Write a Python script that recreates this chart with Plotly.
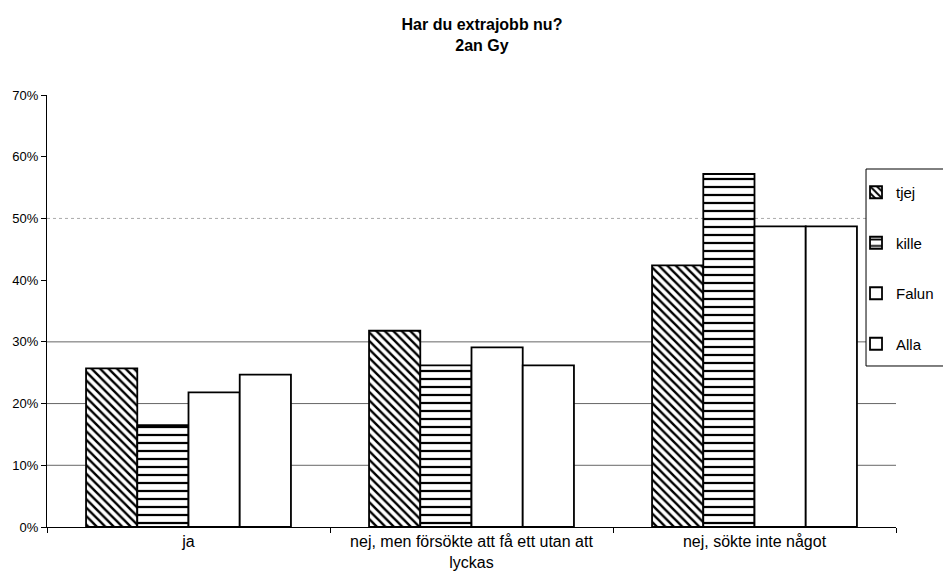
import plotly.graph_objects as go

categories = ["ja", "nej, men försökte att få ett utan att<br>lyckas", "nej, sökte inte något"]
tjej = [25.7, 31.8, 42.4]
kille = [16.5, 26.2, 57.2]
falun = [21.8, 29.1, 48.7]
alla = [24.7, 26.2, 48.7]
series_names = ["tjej", "kille", "Falun", "Alla"]
tick_vals = [0, 10, 20, 30, 40, 50, 60, 70]
tick_text = ["0%", "10%", "20%", "30%", "40%", "50%", "60%", "70%"]

patterns = [
    dict(shape="\\", fgcolor="black", bgcolor="white", size=6, solidity=0.4, fgopacity=1),
    dict(shape="-", fgcolor="black", bgcolor="white", size=8, solidity=0.28, fgopacity=1),
    None,
    None,
]

fig = go.Figure()
for i, (name, vals) in enumerate(zip(series_names, [tjej, kille, falun, alla])):
    marker = dict(color="white", line=dict(color="black", width=1.8))
    if patterns[i]:
        marker["pattern"] = patterns[i]
    fig.add_trace(go.Bar(x=categories, y=vals, name=name, marker=marker,
                         legendgroup=name))

# gridlines (solid at lower ticks, faint dashed at 50% as in the scan)
for v in [10, 20, 30]:
    fig.add_shape(type="line", xref="paper", yref="y", x0=0, x1=1, y0=v, y1=v,
                  line=dict(color="#666666", width=1), layer="below")
fig.add_shape(type="line", xref="paper", yref="y", x0=0, x1=1, y0=50, y1=50,
              line=dict(color="#aaaaaa", width=1, dash="dot"), layer="below")

# legend frame (open on the right: it runs past the picture edge)
lx0, lx1, ly0, ly1 = 0.9647, 1.1, 0.3727, 0.8287
fig.add_shape(type="rect", xref="paper", yref="paper", x0=lx0, x1=lx1,
              y0=ly0, y1=ly1, line=dict(width=0), fillcolor="white", layer="above")
for (a, b, c, d) in [(lx0, lx0, ly0, ly1), (lx0, lx1, ly1, ly1), (lx0, lx1, ly0, ly0)]:
    fig.add_shape(type="line", xref="paper", yref="paper", x0=a, x1=b, y0=c, y1=d,
                  line=dict(color="black", width=1), layer="above")

fig.update_layout(
    width=951, height=568,
    margin=dict(l=39, r=63, t=87, b=49, autoexpand=False),
    paper_bgcolor="white", plot_bgcolor="white",
    font=dict(family="Liberation Sans, Arial, sans-serif", size=15, color="black"),
    title=dict(text="<b>Har du extrajobb nu?<br>2an Gy</b>", x=0.4984, xref="container",
               xanchor="center", y=0.961, yanchor="top",
               font=dict(size=16, color="black")),
    barmode="group", bargap=0.276, bargroupgap=0,
    showlegend=True,
    legend=dict(x=0.9529, xanchor="left", y=0.8125, yanchor="top",
                bgcolor="rgba(0,0,0,0)", borderwidth=0,
                font=dict(size=15, color="black"), traceorder="grouped",
                tracegroupgap=28, itemwidth=30),
    xaxis=dict(showline=True, linecolor="black", linewidth=1, ticks="outside",
               tickson="boundaries", ticklen=5, tickcolor="black",
               tickfont=dict(size=16, color="black"), showgrid=False,
               automargin=False),
    yaxis=dict(range=[0, 70], tickvals=tick_vals, ticktext=tick_text,
               showline=True, linecolor="black", linewidth=1, ticks="outside",
               ticklen=5, tickcolor="black", showgrid=False, zeroline=False,
               tickfont=dict(size=13, color="black"), automargin=False),
)

fig.write_html("out.html")
